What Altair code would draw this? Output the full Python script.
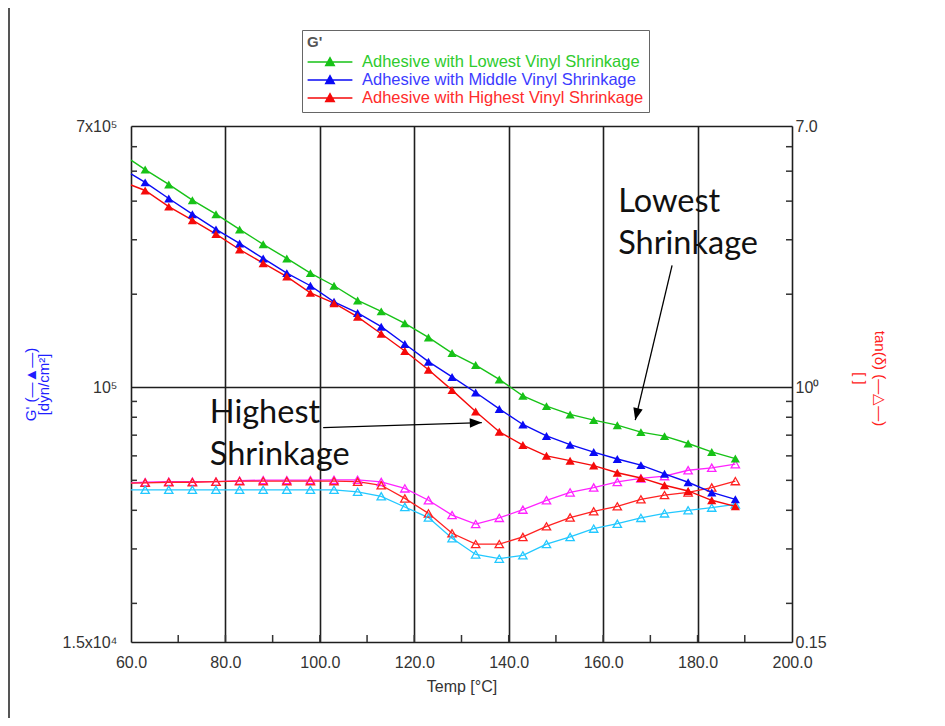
import altair as alt
import pandas as pd

# ---------------- data ----------------
temps = [60, 63, 68, 73, 78, 83, 88, 93, 98, 103, 108, 113, 118, 123, 128,
         133, 138, 143, 148, 153, 158, 163, 168, 173, 178, 183, 188]

series_names = ["Adhesive with Lowest Vinyl Shrinkage",
                "Adhesive with Middle Vinyl Shrinkage",
                "Adhesive with Highest Vinyl Shrinkage"]

g_lowest = [5.43e5, 5.06e5, 4.53e5, 4.03e5, 3.63e5, 3.24e5, 2.90e5, 2.61e5, 2.34e5,
            2.13e5, 1.91e5, 1.76e5, 1.61e5, 1.45e5, 1.29e5, 1.18e5, 1.06e5, 9.38e4,
            8.69e4, 8.17e4, 7.83e4, 7.54e4, 7.16e4, 6.95e4, 6.58e4, 6.18e4, 5.88e4]
g_middle = [4.90e5, 4.60e5, 4.08e5, 3.63e5, 3.24e5, 2.92e5, 2.61e5, 2.34e5, 2.13e5,
            1.89e5, 1.74e5, 1.57e5, 1.38e5, 1.21e5, 1.08e5, 9.62e4, 8.51e4, 7.58e4,
            6.96e4, 6.52e4, 6.17e4, 5.86e4, 5.60e4, 5.25e4, 4.93e4, 4.57e4, 4.34e4]
g_highest = [4.51e5, 4.33e5, 3.84e5, 3.47e5, 3.13e5, 2.79e5, 2.52e5, 2.28e5, 2.02e5,
             1.87e5, 1.69e5, 1.49e5, 1.31e5, 1.14e5, 9.79e4, 8.35e4, 7.18e4, 6.50e4,
             6.00e4, 5.79e4, 5.58e4, 5.29e4, 5.09e4, 4.82e4, 4.62e4, 4.31e4, 4.12e4]

tan_names = ["tan(δ) a", "tan(δ) b", "tan(δ) c"]
tan_a = [0.491, 0.493, 0.495, 0.495, 0.495, 0.499, 0.501, 0.501, 0.501, 0.502, 0.502,
         0.494, 0.471, 0.431, 0.386, 0.361, 0.378, 0.402, 0.431, 0.457, 0.474, 0.494,
         0.507, 0.516, 0.539, 0.549, 0.564]
tan_b = [0.490, 0.491, 0.493, 0.493, 0.495, 0.497, 0.497, 0.497, 0.497, 0.497, 0.495,
         0.482, 0.437, 0.391, 0.337, 0.311, 0.311, 0.328, 0.355, 0.379, 0.397, 0.412,
         0.434, 0.448, 0.457, 0.474, 0.497]
tan_c = [0.466, 0.466, 0.466, 0.466, 0.466, 0.466, 0.466, 0.466, 0.466, 0.466, 0.459,
         0.444, 0.410, 0.379, 0.325, 0.288, 0.279, 0.286, 0.311, 0.328, 0.349, 0.362,
         0.378, 0.391, 0.400, 0.408, 0.418]

g_colors = ["#17c217", "#0a0af5", "#f50a0a"]
g_label_colors = ["#2ecb2e", "#3b3bff", "#ff2b2b"]
tan_colors = ["#ff22ff", "#ff2222", "#22c8ff"]

x_ticks = [60, 80, 100, 120, 140, 160, 180, 200]
x_minor = [70, 80, 90, 100, 110, 120, 130, 140, 150, 160, 170, 180, 190]
g_ticks = [1.5e4, 1e5, 7e5]
g_minor = [2e4, 3e4, 4e4, 5e4, 6e4, 7e4, 8e4, 9e4, 2e5, 3e5, 4e5, 5e5, 6e5]
tan_ticks = [0.15, 1.0, 7.0]
tan_minor = [0.2, 0.3, 0.4, 0.5, 0.6, 0.7, 0.8, 0.9, 2, 3, 4, 5, 6]

# annotations (data coordinates)
note_T = [163.2, 76.7]
note_G = [4.48e5, 9.29e4]
note_text = ["Lowest\nShrinkage", "Highest\nShrinkage"]
arrow_T = [174.6, 100.7]
arrow_G = [2.48e5, 7.40e4]
arrow_T2 = [166.8, 134.3]
arrow_G2 = [7.83e4, 7.69e4]
arrow_angle = [103.4, 358.1]

# ---------------- tables ----------------
n = len(temps)
g_df = pd.DataFrame({
    "T": temps * 3,
    "G": g_lowest + g_middle + g_highest,
    "series": [series_names[0]] * n + [series_names[1]] * n + [series_names[2]] * n,
})
tan_df = pd.DataFrame({
    "T": temps * 3,
    "tan": tan_a + tan_b + tan_c,
    "tseries": [tan_names[0]] * n + [tan_names[1]] * n + [tan_names[2]] * n,
})
notes_df = pd.DataFrame({"T": note_T, "G": note_G, "text": note_text})
arrows_df = pd.DataFrame({"T": arrow_T, "G": arrow_G, "T2": arrow_T2, "G2": arrow_G2})
heads_df = pd.DataFrame({"T": arrow_T2, "G": arrow_G2, "angle": arrow_angle})

FONT = "Liberation Sans"
GRID = "#1e1e1e"

x_enc = alt.X(
    "T:Q",
    scale=alt.Scale(domain=[60, 200], nice=False, zero=False),
    axis=alt.Axis(values=x_ticks, format=".1f", labelFlush=False, ticks=False, domain=False,
                  grid=True, gridColor=GRID, gridWidth=1.6, gridOpacity=1,
                  labelFont=FONT, labelFontSize=16, labelColor="#333", labelPadding=12,
                  title="Temp [°C]", titleFont=FONT, titleFontSize=16, titleFontWeight="normal",
                  titleColor="#333", titlePadding=8),
)

g_label_expr = ("datum.value > 5e5 ? '7x10⁵' : datum.value > 5e4 ? '10⁵' : '1.5x10⁴'")
y_left = alt.Y(
    "G:Q",
    scale=alt.Scale(type="log", domain=[1.5e4, 7e5], nice=False),
    axis=alt.Axis(orient="left", values=g_ticks, labelExpr=g_label_expr, ticks=False, domain=False,
                  grid=True, gridColor=GRID, gridWidth=1.6, gridOpacity=1,
                  labelFont=FONT, labelFontSize=16, labelColor="#333", labelPadding=14,
                  title=["G' (—▲—)", "[dyn/cm²]"], titleFont=FONT, titleFontSize=15,
                  titleFontWeight="normal", titleColor="#1f1fff", titleLineHeight=13,
                  titleX=-93, titleY=258),
)

tan_label_expr = "datum.value > 5 ? '7.0' : datum.value > 0.5 ? '10⁰' : '0.15'"
y_right = alt.Y(
    "tan:Q",
    scale=alt.Scale(type="log", domain=[0.15, 7], nice=False),
    axis=alt.Axis(orient="right", values=tan_ticks, labelExpr=tan_label_expr, ticks=False,
                  domain=False, grid=False, labelFont=FONT, labelFontSize=16, labelColor="#333",
                  labelPadding=3, title=["tan(δ) (—△—)", "[ ]"], titleFont=FONT,
                  titleFontSize=15, titleFontWeight="normal", titleColor="#ff2020",
                  titleLineHeight=20, titleX=79, titleY=252),
)


def color_expr(colors):
    parts = []
    for name, col in zip(series_names[:-1], colors[:-1]):
        parts.append(f"datum.value == '{name}' ? '{col}' : ")
    return "".join(parts) + f"'{colors[-1]}'"


legend_symbol = "M-2.8,0H2.8M-0.55,0.45L0,-0.55L0.55,0.45Z"
legend = alt.Legend(
    title="G'", orient="none", legendX=171, legendY=-96, direction="vertical",
    symbolType=legend_symbol, symbolSize=256, symbolStrokeWidth=1.3,
    symbolStrokeColor=alt.ExprRef(expr=color_expr(g_colors)),
    symbolFillColor=alt.ExprRef(expr=color_expr(g_colors)),
    symbolOffset=14, labelOffset=23, labelFont=FONT, labelFontSize=16.5,
    labelColor=alt.ExprRef(expr=color_expr(g_label_colors)), labelLimit=500,
    titleFont=FONT, titleFontSize=15, titleColor="#555", titleFontWeight="bold",
    titlePadding=3, padding=5, rowPadding=0, strokeColor="#666", fillColor="white",
)

g_color_scale = alt.Scale(domain=series_names, range=g_colors)
tan_color_scale = alt.Scale(domain=tan_names, range=tan_colors)

# ---------------- right (tan delta) layers ----------------
tan_line = alt.Chart(tan_df).mark_line(strokeWidth=1.3).encode(
    x=x_enc, y=y_right,
    color=alt.Color("tseries:N", scale=tan_color_scale, legend=None),
)
tan_pts = alt.Chart(tan_df).transform_filter("datum.T > 61").mark_point(
    shape="triangle-up", filled=False, size=70, strokeWidth=1.3, opacity=1
).encode(x=x_enc, y=y_right, color=alt.Color("tseries:N", scale=tan_color_scale, legend=None))
tan_minor_ticks = alt.Chart(pd.DataFrame({"tan": tan_minor})).mark_rule(
    color="#333", strokeWidth=1.5
).encode(y=y_right, x=alt.value(655), x2=alt.value(661))

right = alt.layer(tan_line, tan_pts, tan_minor_ticks)

# ---------------- left (G') layers ----------------
g_color = alt.Color("series:N", scale=g_color_scale, legend=legend)
g_line = alt.Chart(g_df).mark_line(strokeWidth=1.4).encode(
    x=x_enc, y=y_left, color=g_color,
)
g_pts = alt.Chart(g_df).transform_filter("datum.T > 61").mark_point(
    shape="triangle-up", filled=True, size=85, opacity=1
).encode(x=x_enc, y=y_left, color=g_color)
g_minor_ticks = alt.Chart(pd.DataFrame({"G": g_minor})).mark_rule(
    color="#333", strokeWidth=1.5
).encode(y=y_left, x=alt.value(0), x2=alt.value(6))
x_minor_ticks = alt.Chart(pd.DataFrame({"T": x_minor})).mark_rule(
    color="#333", strokeWidth=1.5
).encode(x=x_enc, y=alt.value(516), y2=alt.value(509))

arrow_lines = alt.Chart(arrows_df).mark_rule(color="black", strokeWidth=1.3).encode(
    x=x_enc, y=y_left, x2="T2:Q", y2="G2:Q"
)
arrow_heads = alt.Chart(heads_df).mark_point(
    shape="M0,0L-1,-0.4L-1,0.4Z", filled=True, size=576, color="black", opacity=1
).encode(x=x_enc, y=y_left, angle=alt.Angle("angle:Q", scale=None))
notes = alt.Chart(notes_df).mark_text(
    align="left", baseline="top", font="Lato", fontSize=32.5, lineHeight=42,
    lineBreak="\n", color="#111"
).encode(x=x_enc, y=y_left, text="text:N")

page_frame = alt.Chart(pd.DataFrame({"a": [0]})).mark_rule(color="#555", strokeWidth=2).encode(
    x=alt.value(-122), y=alt.value(-118), y2=alt.value(592)
)

left = alt.layer(g_line, g_pts, g_minor_ticks, x_minor_ticks, arrow_lines, arrow_heads,
                 notes, page_frame)

chart = alt.layer(right, left).resolve_scale(
    y="independent", color="independent"
).properties(
    width=661, height=516,
    autosize=alt.AutoSizeParams(type="none"),
    padding={"left": 123, "top": 118, "right": 140, "bottom": 76},
).configure_view(
    stroke="#333", strokeWidth=2
).configure(font=FONT)

chart.save("out.html", embed_options={"renderer": "svg", "actions": False})
